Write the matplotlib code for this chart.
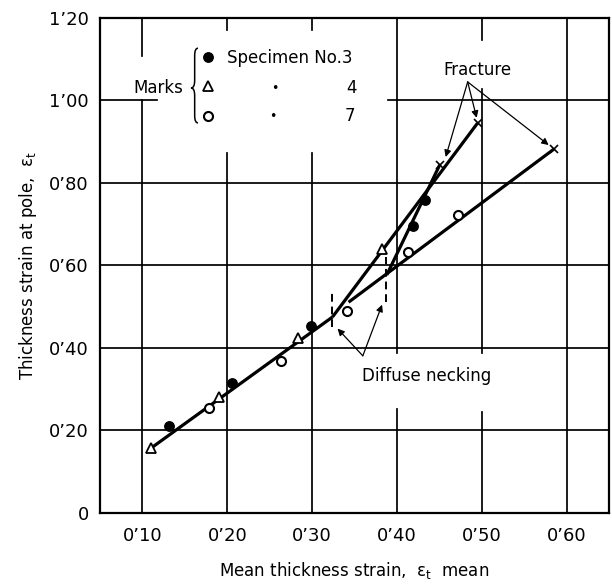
import matplotlib
matplotlib.use('Agg')
import matplotlib.pyplot as plt
from matplotlib.path import Path
from matplotlib.patches import PathPatch

spec3_x = [0.131, 0.206, 0.299, 0.419, 0.433]
spec3_y = [0.211, 0.315, 0.453, 0.696, 0.759]
spec4_x = [0.110, 0.190, 0.283, 0.382]
spec4_y = [0.157, 0.281, 0.424, 0.639]
spec7_x = [0.178, 0.263, 0.341, 0.413, 0.472]
spec7_y = [0.255, 0.368, 0.490, 0.633, 0.722]

# fracture points
fracture_x = [0.4505, 0.495, 0.585]
fracture_y = [0.844, 0.945, 0.882]

# fitted lines
common_x = [0.110, 0.324]
common_y = [0.157, 0.475]
fit4_x = [0.324, 0.495]
fit4_y = [0.475, 0.945]
fit3_x = [0.388, 0.4505]
fit3_y = [0.577, 0.844]
fit7_x = [0.343, 0.585]
fit7_y = [0.511, 0.882]

# diffuse necking positions (x, y range of dashed marks)
neck_x = [0.324, 0.387]
neck_lo = [0.451, 0.511]
neck_hi = [0.533, 0.621]

x_ticks = [0.10, 0.20, 0.30, 0.40, 0.50, 0.60]
x_labels = ["0\u201910", "0\u201920", "0\u201930", "0\u201940", "0\u201950", "0\u201960"]
y_ticks = [0, 0.20, 0.40, 0.60, 0.80, 1.00, 1.20]
y_labels = ["0", "0\u201920", "0\u201940", "0\u201960", "0\u201980", "1\u201900", "1\u201920"]

fig = plt.figure(figsize=(6.12, 5.86), dpi=100)
ax = fig.add_axes([0.1634, 0.1246, 0.8317, 0.8447])
ax.set_xlim(0.05, 0.65)
ax.set_ylim(0, 1.2)

# hand drawn grid, broken where the labels sit
vgrid = {0.10: [(0, 0.834), (0.924, 1)],
         0.20: [(0, 0.727), (0.976, 1)],
         0.30: [(0, 0.727), (0.976, 1)],
         0.40: [(0, 0.21), (0.323, 1)],
         0.50: [(0, 0.205), (0.323, 0.857), (0.956, 1)],
         0.60: [(0, 1)]}
hgrid = {0.20: [(0, 1)], 0.40: [(0, 1)], 0.60: [(0, 1)], 0.80: [(0, 1)],
         1.00: [(0, 0.112), (0.566, 1)]}
for xv, segs in vgrid.items():
    for a, b in segs:
        ax.axvline(xv, a, b, color='black', lw=1.25, zorder=1)
for yv, segs in hgrid.items():
    for a, b in segs:
        ax.axhline(yv, a, b, color='black', lw=1.25, zorder=1)

for s in ax.spines.values():
    s.set_linewidth(1.6)

# fitted lines
for lx, ly in [(common_x, common_y), (fit4_x, fit4_y), (fit3_x, fit3_y), (fit7_x, fit7_y)]:
    ax.plot(lx, ly, color='black', lw=2.3, solid_capstyle='butt', zorder=2)

h3, = ax.plot(spec3_x, spec3_y, 'o', color='black', ms=6.8, ls='none', zorder=3)
h4, = ax.plot(spec4_x, spec4_y, '^', mfc='white', mec='black', mew=1.3, ms=7, ls='none', zorder=3)
h7, = ax.plot(spec7_x, spec7_y, 'o', mfc='white', mec='black', mew=1.5, ms=6.5, ls='none', zorder=3)
ax.plot(fracture_x, fracture_y, 'x', color='black', ms=6, mew=1.2, ls='none', zorder=3)

# diffuse necking dashed marks
for nx, lo, hi in zip(neck_x, neck_lo, neck_hi):
    ax.plot([nx, nx], [lo, hi], color='black', lw=1.4, ls=(0, (4, 2.5)), zorder=2)

arrow = dict(arrowstyle='-|>', lw=0.9, color='black', mutation_scale=10, shrinkA=0, shrinkB=0)
ax.annotate('', xy=(0.330, 0.447), xytext=(0.3598, 0.381), arrowprops=arrow)
ax.annotate('', xy=(0.3825, 0.505), xytext=(0.3598, 0.381), arrowprops=arrow)
ax.text(0.3586, 0.333, 'Diffuse necking', fontsize=12, ha='left', va='center')

# fracture arrows
for tx, ty in [(0.4575, 0.863), (0.494, 0.958), (0.5789, 0.892)]:
    ax.annotate('', xy=(tx, ty), xytext=(0.4834, 1.045), arrowprops=arrow)
ax.text(0.4952, 1.074, 'Fracture', fontsize=12, ha='center', va='center')

# key
leg = ax.legend([h3, h4, h7], ['Specimen No.3', ' ', ' '], loc='upper left',
                bbox_to_anchor=(0.195, 0.938), frameon=False, handlelength=1.0,
                handletextpad=0.66, labelspacing=0.68, borderpad=0, borderaxespad=0,
                fontsize=12, numpoints=1)
ax.text(0.505, 0.8586, '4', transform=ax.transAxes, fontsize=12, ha='right', va='center')
ax.text(0.501, 0.803, '7', transform=ax.transAxes, fontsize=12, ha='right', va='center')
ax.text(0.3438, 0.8566, '\u2022', transform=ax.transAxes, fontsize=9, ha='center', va='center')
ax.text(0.3399, 0.800, '\u2022', transform=ax.transAxes, fontsize=9, ha='center', va='center')
ax.text(0.163, 0.8586, 'Marks', transform=ax.transAxes, fontsize=12, ha='right', va='center')

xr, xm, xl = 0.1925, 0.186, 0.1788
yt, yb, ym, d = 0.939, 0.788, 0.8586, 0.015
brace = Path([(xr, yt), (xm, yt), (xm, yt - d), (xm, ym + d), (xm, ym), (xl, ym),
              (xm, ym), (xm, ym - d), (xm, yb + d), (xm, yb), (xr, yb)],
             [Path.MOVETO, Path.CURVE3, Path.CURVE3, Path.LINETO, Path.CURVE3, Path.CURVE3,
              Path.CURVE3, Path.CURVE3, Path.LINETO, Path.CURVE3, Path.CURVE3])
ax.add_patch(PathPatch(brace, transform=ax.transAxes, fill=False, lw=1.1, color='black'))

ax.set_xticks(x_ticks)
ax.set_xticklabels(x_labels, fontsize=13)
ax.set_yticks(y_ticks)
ax.set_yticklabels(y_labels, fontsize=13)
ax.tick_params(axis='both', length=0)
ax.tick_params(axis='x', pad=10)
ax.tick_params(axis='y', pad=8)

ax.set_xlabel('Mean thickness strain,  \u03b5$_{\\rm t}$  mean', fontsize=12, labelpad=11)
ax.set_ylabel('Thickness strain at pole,  \u03b5$_{\\rm t}$', fontsize=12, labelpad=7)

fig.savefig('out.png', dpi=100)
